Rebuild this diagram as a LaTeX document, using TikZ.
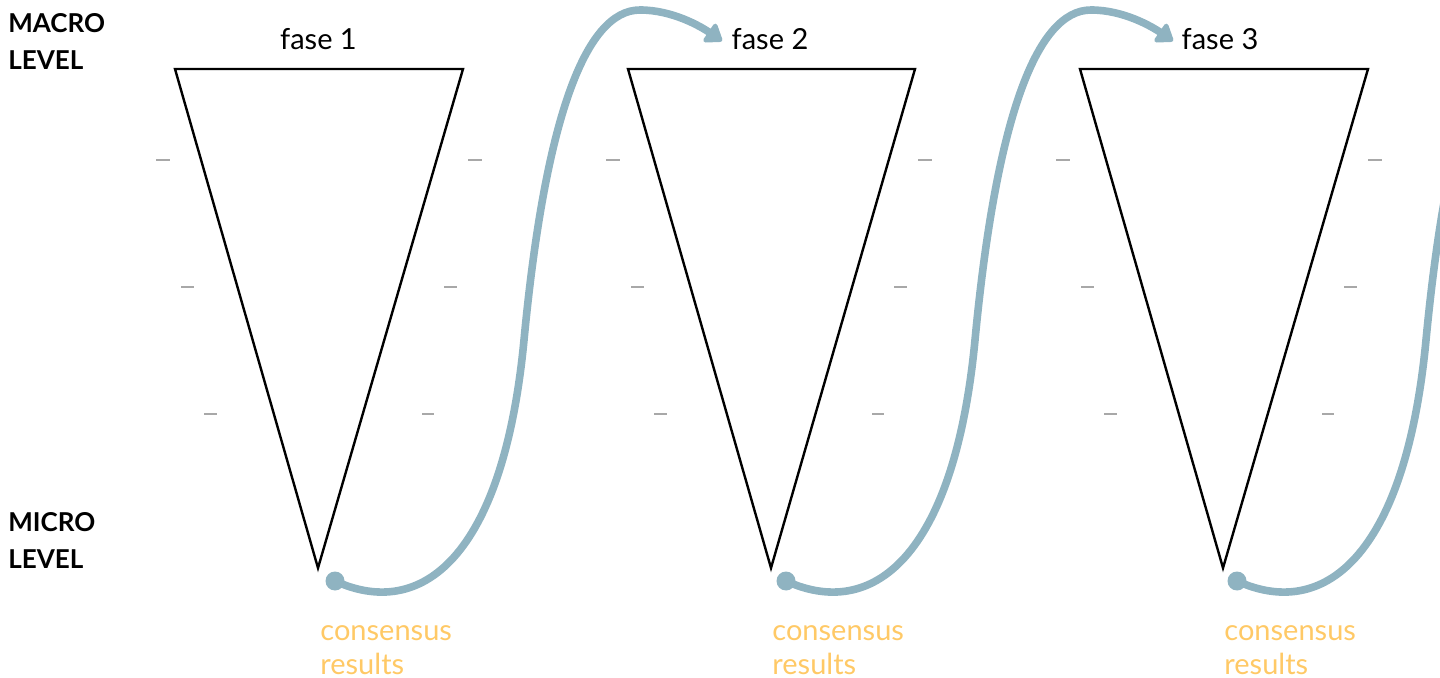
\documentclass[tikz,border=0pt]{standalone}
\usepackage{fontspec}
\setmainfont{Lato}
\usetikzlibrary{arrows.meta}
\definecolor{flowc}{HTML}{8FB3C1}
\definecolor{resc}{HTML}{FFC966}
\definecolor{tickc}{HTML}{A8A8A8}
\begin{document}
\begin{tikzpicture}[x=0.5pt,y=-0.5pt,
  lbl/.style={font=\fontsize{14.5}{18}\selectfont, inner sep=0pt, anchor=base},
  lvl/.style={font=\fontsize{13}{18.5}\selectfont\bfseries, align=left, anchor=north west, inner sep=0pt},
  restxt/.style={text=resc, font=\fontsize{14.5}{17}\selectfont, align=left, anchor=north west, inner sep=0pt},
  funnel/.style={draw=black, line width=1.2pt, line join=miter},
  tickmark/.style={draw=tickc, line width=0.6pt},
  flow/.style={draw=flowc, line width=3.8pt},
  flowarrow/.style={flow, -{Triangle[length=9pt,width=12.5pt,round]}},
  dotn/.style={circle, fill=flowc, inner sep=0pt, minimum size=9.5pt}]
\useasboundingbox (0,0) rectangle (1440,678);

% level labels
\node[lvl] (macro) at (8,13) {MACRO\\LEVEL};
\node[lvl] (micro) at (8,512) {MICRO\\LEVEL};

% funnels
\draw[funnel] (175,69) coordinate (t1a) -- (463,69) coordinate (t1b) -- (318,568) coordinate (t1c) -- cycle;
\draw[funnel] (628,69) coordinate (t2a) -- (915,69) coordinate (t2b) -- (771,568) coordinate (t2c) -- cycle;
\draw[funnel] (1080,69) coordinate (t3a) -- (1368,69) coordinate (t3b) -- (1223,568) coordinate (t3c) -- cycle;

% ticks
\foreach \o in {0,450,900}{
  \draw[tickmark] (156+\o,160) -- (170+\o,160);
  \draw[tickmark] (181+\o,287) -- (194+\o,287);
  \draw[tickmark] (204+\o,414) -- (217+\o,414);
  \draw[tickmark] (468+\o,160) -- (482+\o,160);
  \draw[tickmark] (444+\o,287) -- (457+\o,287);
  \draw[tickmark] (422+\o,414) -- (434+\o,414);
}

% phase labels
\node[lbl] (f1) at (318.5,50) {fase 1};
\node[lbl] (f2) at (770,50) {fase 2};
\node[lbl] (f3) at (1220,50) {fase 3};

% result labels
\node[restxt] (r1) at (320,625) {consensus\\results};
\node[restxt] (r2) at (772,625) {consensus\\results};
\node[restxt] (r3) at (1224,625) {consensus\\results};

% dots
\node[dotn] (d1) at (335,581) {};
\node[dotn] (d2) at (786,581) {};
\node[dotn] (d3) at (1237,581) {};

\coordinate (a1) at (722,41);
\coordinate (a2) at (1173,41);

% flows
\draw[flowarrow] (d1.center) .. controls (420,620) and (503,560) .. (524,340)
   .. controls (545,120) and (585,10) .. (640,10)
   .. controls (672,10) and (700,26) .. (a1);
\draw[flowarrow] (d2.center) .. controls (871,620) and (954,560) .. (975,340)
   .. controls (996,120) and (1036,10) .. (1091,10)
   .. controls (1123,10) and (1151,26) .. (a2);
\begin{scope}
\clip (0,0) rectangle (1440,678);
\draw[flow] (d3.center) .. controls (1322,620) and (1405,560) .. (1426,340)
   .. controls (1447,120) and (1487,10) .. (1542,10);
\end{scope}
\end{tikzpicture}
\end{document}
